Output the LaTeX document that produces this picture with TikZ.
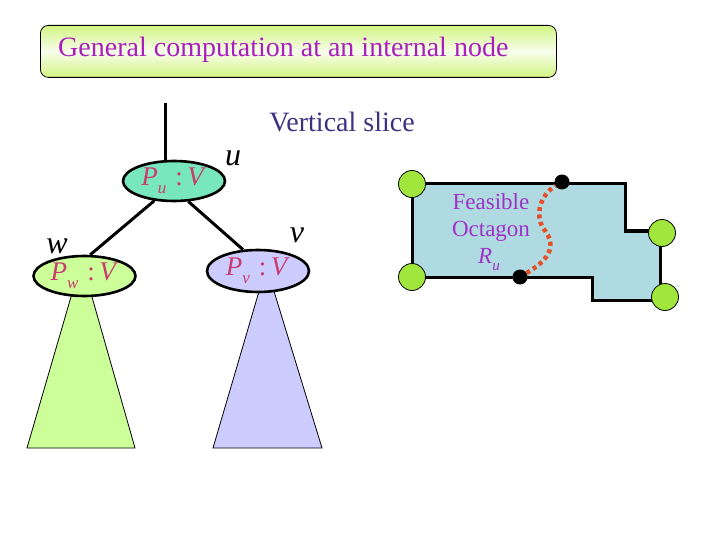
\documentclass[tikz,border=0pt]{standalone}
\usepackage{fontspec}
\setmainfont{Liberation Serif}
\usetikzlibrary{shapes.geometric}
\definecolor{titlegreen}{RGB}{210,245,130}
\definecolor{titlepurple}{RGB}{170,30,190}
\definecolor{slicecol}{RGB}{60,50,130}
\definecolor{ufill}{RGB}{120,230,190}
\definecolor{wfill}{RGB}{204,255,153}
\definecolor{vfill}{RGB}{204,204,255}
\definecolor{labred}{RGB}{200,60,110}
\definecolor{octfill}{RGB}{176,218,225}
\definecolor{corner}{RGB}{160,230,60}
\definecolor{pathred}{RGB}{230,80,40}
\definecolor{feascol}{RGB}{160,50,200}
\newcommand{\plab}[1]{\textit{P}\raisebox{-0.3em}{\fontsize{17}{18}\selectfont\textit{#1}}\,\,:\,\textit{V}}
\begin{document}
\begin{tikzpicture}[x=1pt,y=-1pt,
  treenode/.style={ellipse,draw=black,line width=2.6pt,minimum width=102pt,minimum height=40pt,inner sep=0pt,text=labred,font=\fontsize{27}{29}\selectfont},
  subtree/.style={draw=black,line width=0.8pt},
  edge/.style={draw=black,line width=3pt},
  cornerpt/.style={circle,draw=black,line width=0.8pt,fill=corner,minimum size=27pt,inner sep=0pt},
  blackpt/.style={circle,fill=black,minimum size=15pt,inner sep=0pt},
  letter/.style={font=\fontsize{32}{34}\selectfont\itshape,inner sep=0pt}]
\useasboundingbox (0,0) rectangle (720,540);
% title
\node[draw=black,line width=0.8pt,rounded corners=8pt,minimum width=516pt,minimum height=52pt,
  top color=titlegreen,bottom color=titlegreen,middle color=white!85!titlegreen,anchor=north west,inner sep=0pt] (title) at (40,25) {};
\node[anchor=west,text=titlepurple,font=\fontsize{28}{30}\selectfont,inner sep=0pt] (titletext) at (58,50) {General computation at an internal node};
\node[text=slicecol,font=\fontsize{28}{30}\selectfont,inner sep=0pt] (slice) at (342,122) {Vertical slice};
% subtrees
\path[subtree,fill=wfill] (27,448) -- (73,290) -- (90,290) -- (135,448) -- cycle;
\path[subtree,fill=vfill] (213,448) -- (260,288) -- (273,288) -- (322,448) -- cycle;
% tree nodes
\coordinate (top) at (165,103);
\node[treenode,fill=ufill] (u) at (174,181) {\plab{u}};
\node[treenode,fill=wfill] (w) at (84.5,276) {\plab{w}};
\node[treenode,fill=vfill,minimum height=42pt] (v) at (258,271) {\plab{v}};
\draw[edge] (top) -- (top |- u.north);
\draw[edge] (u.225) -- (w.75);
\draw[edge] (u.-55) -- (v.125);
\node[letter] (ul) at (233,158) {u};
\node[letter] (wl) at (57,246) {w};
\node[letter] (vl) at (297,235) {v};
% octagon
\draw[line width=3pt,fill=octfill] (412,184) -- (625,184) -- (625,231) -- (660,231) -- (660,300) -- (592,300) -- (592,277) -- (412,277) -- cycle;
\node[cornerpt] (c1) at (412,184) {};
\node[cornerpt] (c2) at (412,277) {};
\node[cornerpt] (c3) at (662,233) {};
\node[cornerpt] (c4) at (665,297) {};
\node[blackpt] (b1) at (562,182) {};
\node[blackpt] (b2) at (520,277) {};
\draw[pathred,line width=4.5pt,dash pattern=on 4pt off 3.5pt] (b2) .. controls (545,262) and (560,248) .. (543,228) .. controls (535,215) and (540,195) .. (b1);
\node[text=feascol,font=\fontsize{23}{25}\selectfont,align=center,inner sep=0pt] (feas) at (491,218) {Feasible\\[2pt]Octagon};
\node[text=feascol,font=\fontsize{23}{25}\selectfont\itshape,inner sep=0pt] (ru) at (489,260) {R\raisebox{-0.3em}{\fontsize{15}{16}\selectfont u}};
\end{tikzpicture}
\end{document}
